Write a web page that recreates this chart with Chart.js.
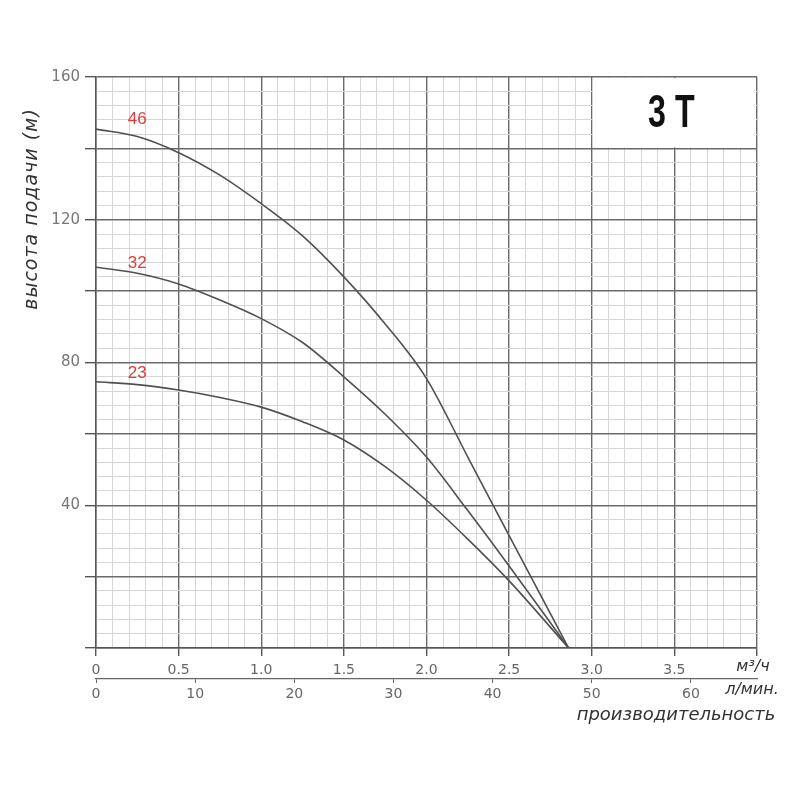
<!DOCTYPE html>
<html>
<head>
<meta charset="utf-8">
<script src="https://cdn.jsdelivr.net/npm/chart.js@4.4.0/dist/chart.umd.min.js"></script>
<style>
html,body{margin:0;padding:0;background:#fff;}
</style>
</head>
<body>
<canvas id="pumpChart" width="800" height="800"></canvas>
<script>

// flow (m3/h) and head (m)
var flow   = [0, 0.25, 0.5, 0.75, 1.0, 1.25, 1.5, 1.75, 2.0, 2.25, 2.5, 2.86];
var head46 = [145.4, 143.3, 138.8, 132.5, 124.5, 115.5, 104, 90.8, 75.5, 53.5, 31.5, 0];
var head32 = [106.7, 105, 102, 97.5, 92.3, 85.6, 76, 65.5, 53.5, 38.5, 23, 0];
var head23 = [74.6, 73.8, 72.3, 70.2, 67.5, 63.4, 58.3, 50.8, 41.4, 30.5, 18.8, 0];
var curveNames = ['46', '32', '23'];

var xTickLabels = ['0', '0.5', '1.0', '1.5', '2.0', '2.5', '3.0', '3.5'];
var yTickLabels = ['40', '80', '120', '160'];
var lminTickLabels = ['0', '10', '20', '30', '40', '50', '60'];
var boxTitle = '3 T';

function points(arr){
	var out = [];
	for (var i = 0; i < flow.length; i++) {
		out.push({x: flow[i], y: arr[i]});
	}
	return out;
}

function isStep(v, step){
	var r = v / step;
	return Math.abs(r - Math.round(r)) < 1e-6;
}

var lineStyle = {
	borderColor: '#505050',
	borderWidth: 1.6,
	pointRadius: 0,
	fill: false,
	cubicInterpolationMode: 'monotone'
};

var labelLift = [17, 10, 11];

var decorPlugin = {
	id: 'decor',
	beforeDatasetsDraw: function(chart){
		var ctx = chart.ctx;
		var xs = chart.scales.x, ys = chart.scales.y;
		// white title box in top right cell
		var l = xs.getPixelForValue(3.0), r = xs.getPixelForValue(4.0);
		var t = ys.getPixelForValue(160), b = ys.getPixelForValue(140);
		ctx.save();
		ctx.fillStyle = '#fff';
		ctx.fillRect(l + 1, t + 1, r - l - 2, b - t - 2);
		ctx.restore();
	},
	afterDatasetsDraw: function(chart){
		var ctx = chart.ctx;
		var xs = chart.scales.x, ys = chart.scales.y;

		// curve names
		ctx.save();
		ctx.fillStyle = '#d9413f';
		ctx.font = '17px "Liberation Sans", Arial, sans-serif';
		ctx.textAlign = 'center';
		ctx.textBaseline = 'middle';
		chart.data.datasets.forEach(function(ds, i){
			var px = xs.getPixelForValue(flow[1]);
			var py = ys.getPixelForValue(ds.data[1].y) - labelLift[i];
			ctx.fillText(curveNames[i], px, py);
		});
		ctx.restore();

		// box title
		var cx = (xs.getPixelForValue(3.0) + xs.getPixelForValue(4.0)) / 2;
		var cy = (ys.getPixelForValue(160) + ys.getPixelForValue(140)) / 2;
		ctx.save();
		ctx.translate(cx - 3, cy + 2);
		ctx.scale(0.7, 1);
		ctx.fillStyle = '#111';
		ctx.font = 'bold 46px "Liberation Sans", Arial, sans-serif';
		ctx.textAlign = 'center';
		ctx.textBaseline = 'middle';
		ctx.fillText(boxTitle, 0, 0);
		ctx.restore();

		// axis titles
		ctx.save();
		ctx.fillStyle = '#333';
		ctx.textAlign = 'center';
		ctx.textBaseline = 'middle';
		ctx.save();
		ctx.font = 'italic 19px "DejaVu Sans", sans-serif';
		ctx.letterSpacing = '1px';
		ctx.translate(32, 209);
		ctx.rotate(-Math.PI / 2);
		ctx.fillText('высота подачи (м)', 0, 0);
		ctx.restore();

		ctx.font = 'italic 16px "DejaVu Sans", sans-serif';
		ctx.fillText('м³/ч', 753, 667);
		ctx.fillText('л/мин.', 752, 690);
		ctx.font = 'italic 18px "DejaVu Sans", sans-serif';
		ctx.fillText('производительность', 676, 715);
		ctx.restore();
	}
};

var ctx = document.getElementById('pumpChart');
var chart = new Chart(ctx, {
	type: 'line',
	data: {
		datasets: [
			Object.assign({label: curveNames[0], data: points(head46)}, lineStyle),
			Object.assign({label: curveNames[1], data: points(head32)}, lineStyle),
			Object.assign({label: curveNames[2], data: points(head23)}, lineStyle)
		]
	},
	options: {
		responsive: false,
		animation: false,
		devicePixelRatio: 1,
		layout: {
			padding: {left: 0, top: 77, right: 43, bottom: 0}
		},
		plugins: {
			legend: {display: false},
			tooltip: {enabled: false}
		},
		scales: {
			x: {
				type: 'linear',
				position: 'bottom',
				min: 0,
				max: 4,
				afterFit: function(s){ s.height = 31; },
				border: {display: true, color: '#555', width: 1.5},
				grid: {
					color: function(c){ return isStep(c.tick.value, 0.5) ? '#6a6a6a' : '#d6d6d6'; },
					lineWidth: function(c){ return isStep(c.tick.value, 0.5) ? 1.4 : 1; },
					tickColor: function(c){ return isStep(c.tick.value, 0.5) ? '#555' : 'rgba(0,0,0,0)'; },
					tickLength: 8
				},
				ticks: {
					stepSize: 0.1,
					autoSkip: false,
					maxRotation: 0,
					padding: 6,
					color: '#666',
					font: {family: '"DejaVu Sans", sans-serif', size: 14},
					callback: function(v){
						if (!isStep(v, 0.5)) return '';
						var i = Math.round(v / 0.5);
						return i < xTickLabels.length ? xTickLabels[i] : '';
					}
				}
			},
			x2: {
				type: 'linear',
				position: 'bottom',
				min: 0,
				max: 4 * 1000 / 60,
				afterFit: function(s){ s.height = 121; },
				border: {display: true, color: '#666', width: 1.3},
				grid: {
					drawOnChartArea: false,
					color: '#666',
					tickLength: 4
				},
				ticks: {
					stepSize: 10,
					includeBounds: false,
					autoSkip: false,
					maxRotation: 0,
					padding: 3,
					color: '#666',
					font: {family: '"DejaVu Sans", sans-serif', size: 14},
					callback: function(v){
						if (!isStep(v, 10)) return '';
						var i = Math.round(v / 10);
						return i < lminTickLabels.length ? lminTickLabels[i] : '';
					}
				}
			},
			y: {
				type: 'linear',
				min: 0,
				max: 160,
				afterFit: function(s){ s.width = 96; },
				border: {display: true, color: '#555', width: 1.5},
				grid: {
					color: function(c){ return isStep(c.tick.value, 20) ? '#6a6a6a' : '#d6d6d6'; },
					lineWidth: function(c){ return isStep(c.tick.value, 20) ? 1.4 : 1; },
					tickColor: function(c){ return isStep(c.tick.value, 20) ? '#555' : 'rgba(0,0,0,0)'; },
					tickLength: 11
				},
				ticks: {
					stepSize: 4,
					autoSkip: false,
					padding: 5,
					color: '#777',
					font: {family: '"DejaVu Sans", sans-serif', size: 15},
					callback: function(v){
						if (v === 0 || !isStep(v, 40)) return '';
						return yTickLabels[Math.round(v / 40) - 1];
					}
				}
			}
		}
	},
	plugins: [decorPlugin]
});
</script>
</body>
</html>
